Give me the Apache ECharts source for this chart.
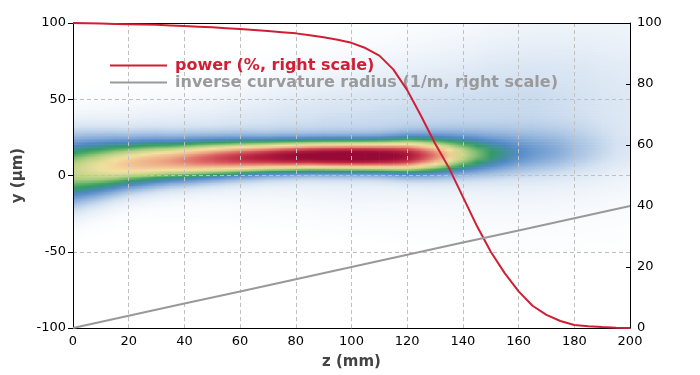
<!DOCTYPE html>
<html><head><meta charset="utf-8">
<script src="https://cdn.jsdelivr.net/npm/echarts@6/dist/echarts.min.js"></script>
<style>html,body{margin:0;padding:0;background:#fff}#c{width:700px;height:375px}</style>
</head><body><div id="c"></div>
<script>
// ---- data ----
const zSteps = [0,5,10,15,20,25,30,35,40,45,50,55,60,65,70,75,80,85,90,95,100,105,110,115,120,125,130,135,140,145,150,155,160,165,170,175,180,185,190,195,200];
// beam core (µm, µm, relative intensity)
const beamCenter = [2.5,4.0,5.2,6.4,7.5,8.3,9.0,9.5,10.0,10.5,11.0,11.4,11.8,12.1,12.4,12.6,12.8,13.0,13.0,13.0,13.0,13.0,13.0,13.0,13.1,13.2,13.3,13.5,13.7,13.9,14.1,14.4,14.7,15.0,15.3,15.6,15.9,16.1,16.3,16.5,16.7];
const beamWidth = [29,27,25,23,21,20,19,18,17.5,16.8,16.2,15.5,15,14.5,14,13.8,13.5,13.3,13.2,13.2,13.2,13.3,13.6,14.2,15,15.5,16,16.5,17,17.5,18,18.5,19,19.5,20,20.5,21,21.5,22,22,22];
const beamPeak = [0.45,0.48,0.51,0.54,0.57,0.59,0.61,0.63,0.66,0.69,0.72,0.75,0.78,0.81,0.84,0.87,0.9,0.92,0.94,0.95,0.96,0.96,0.94,0.91,0.86,0.76,0.66,0.55,0.45,0.37,0.3,0.25,0.2,0.17,0.15,0.13,0.1,0.08,0.06,0.04,0.03];
// faint scattered halo
const haloPeak = [0.09,0.09,0.09,0.095,0.095,0.1,0.1,0.1,0.1,0.105,0.105,0.11,0.11,0.11,0.11,0.115,0.115,0.115,0.12,0.12,0.12,0.12,0.12,0.12,0.12,0.12,0.12,0.12,0.12,0.12,0.12,0.12,0.12,0.12,0.115,0.11,0.105,0.1,0.09,0.085,0.08];
const haloCenter = [12,13,14,15,16,17,18,18.5,19,19.5,20,21,22,23,24,25,26,26.5,27,27.5,28,29.5,31,32,33.5,34.5,35.5,36.5,37.5,38.5,40,41,42,43,44,45,46,47,48,49,50];
const haloWidth = [25,25,25.5,25.5,26,26,26.5,27,27,27.5,28,29,30,31,32,33,34,35,36,37,38,39,40,41,42,43,44,45,46,48,50,51,52,52,53,53,54,54,55,55,55];
// power (%, right scale)
const power = [100,99.9,99.8,99.7,99.6,99.5,99.4,99.2,99.0,98.8,98.6,98.3,98.0,97.7,97.4,97.0,96.6,96.0,95.3,94.5,93.5,91.8,89.3,84.8,78.0,69.5,60.5,52.5,43.0,33.5,25.0,18.0,12.0,7.3,4.3,2.3,1.0,0.6,0.3,0.1,0.0];
// inverse curvature radius (1/m, right scale)
const curvZ = [0,20,40,60,80,100,120,140,160,180,200];
const curvature = [0,4,8,12,16,20,24,28,32,36,40];
const seriesNames = ['power (%, right scale)','inverse curvature radius (1/m, right scale)'];
const xName = 'z (mm)', yName = 'y (µm)';
const palette = ['#ffffff','#d6e3f2','#92b4dc','#4f86c6','#2f9d5c','#b0cf80','#f5e2a0','#eeab86','#d9595d','#b8213f','#970a36'];

// ---- build heat cells: [z, y, value here, value at next z, next z] ----
const yRows = [];
for (let y = -100; y <= 100; y += 1) yRows.push(y);
function intensity(i, y) {
  const d = y - beamCenter[i];
  const h = (y - haloCenter[i]) / haloWidth[i];
  return beamPeak[i] * Math.exp(-2 * d * d / (beamWidth[i] * beamWidth[i])) + haloPeak[i] * Math.exp(-h * h);
}
const cells = [];
for (let i = 0; i < zSteps.length - 1; i++) {
  yRows.forEach(y => {
    const a = intensity(i, y), b = intensity(i + 1, y);
    if (a > 0.004 || b > 0.004) cells.push([zSteps[i], y, a, b, zSteps[i + 1]]);
  });
}
const colorOf = v => echarts.color.lerp(Math.max(0, Math.min(1, v)), palette);

const font = 'DejaVu Sans';
const clampY = v => Math.max(-100, Math.min(100, v));
const chart = echarts.init(document.getElementById('c'), null, {renderer: 'canvas'});
chart.setOption({
  animation: false,
  backgroundColor: '#fff',
  grid: {left: 73, right: 70, top: 23, bottom: 47},
  legend: {
    orient: 'vertical', left: 105, top: 52, itemWidth: 57, itemHeight: 2, itemGap: 0,
    icon: 'rect',
    textStyle: {fontFamily: font, fontWeight: 'bold', fontSize: 16, padding: [0,0,0,3], lineHeight: 17},
    data: [
      {name: seriesNames[0], textStyle: {color: '#d01f35'}},
      {name: seriesNames[1], textStyle: {color: '#9a9a9a'}}
    ]
  },
  xAxis: [{
    type: 'value', min: 0, max: 200, interval: 20, z: 3,
    name: xName, nameLocation: 'middle', nameGap: 27,
    nameTextStyle: {fontFamily: font, fontWeight: 'bold', fontSize: 15, color: '#444'},
    axisLine: {show: true, onZero: false, lineStyle: {color: '#000', width: 1}},
    axisTick: {show: false},
    axisLabel: {fontFamily: font, fontSize: 13, color: '#000', margin: 7},
    splitLine: {show: true, lineStyle: {color: '#c0c0c0', type: [4,3], width: 1}}
  }, {
    type: 'value', min: 0, max: 200, position: 'top', z: 3,
    axisLine: {show: true, onZero: false, lineStyle: {color: '#000', width: 1}},
    axisTick: {show: false}, axisLabel: {show: false}, splitLine: {show: false}
  }],
  yAxis: [{
    type: 'value', min: -100, max: 100, interval: 50, z: 3,
    name: yName, nameLocation: 'middle', nameGap: 40, nameRotate: 90,
    nameTextStyle: {fontFamily: font, fontWeight: 'bold', fontSize: 15, color: '#444'},
    axisLine: {show: true, onZero: false, lineStyle: {color: '#000', width: 1}},
    axisTick: {show: true, inside: false, length: 5, lineStyle: {color: '#000'}},
    axisLabel: {fontFamily: font, fontSize: 13, color: '#000', margin: 7},
    splitLine: {show: true, lineStyle: {color: '#c0c0c0', type: [4,3], width: 1}}
  }, {
    type: 'value', min: 0, max: 100, interval: 20, position: 'right', z: 3,
    axisLine: {show: true, onZero: false, lineStyle: {color: '#000', width: 1}},
    axisTick: {show: true, inside: true, length: 4, lineStyle: {color: '#000'}},
    axisLabel: {fontFamily: font, fontSize: 13, color: '#000', margin: 7},
    splitLine: {show: false}
  }],
  series: [{
    type: 'custom', z: 1, xAxisIndex: 0, yAxisIndex: 0,
    encode: {x: [0, 4], y: 1},
    data: cells,
    renderItem: function (params, api) {
      const z0 = api.value(0), y = api.value(1), z1 = api.value(4);
      const p1 = api.coord([z0, clampY(y + 0.5)]);
      const p2 = api.coord([z1, clampY(y - 0.5)]);
      const ex = z1 >= 200 ? 0 : 0.5, ey = y - 0.5 <= -100 ? 0 : 0.6;
      return {type: 'rect', shape: {x: p1[0], y: p1[1], width: p2[0] - p1[0] + ex, height: p2[1] - p1[1] + ey},
        style: {fill: new echarts.graphic.LinearGradient(0, 0, 1, 0, [
          {offset: 0, color: colorOf(api.value(2))},
          {offset: 1, color: colorOf(api.value(3))}
        ])}};
    }
  }, {
    name: seriesNames[0], type: 'line', z: 5, xAxisIndex: 0, yAxisIndex: 1,
    symbol: 'none', showSymbol: false,
    lineStyle: {color: '#d01f35', width: 2}, itemStyle: {color: '#d01f35'},
    data: zSteps.map((z, i) => [z, power[i]])
  }, {
    name: seriesNames[1], type: 'line', z: 5, xAxisIndex: 0, yAxisIndex: 1,
    symbol: 'none', showSymbol: false,
    lineStyle: {color: '#999999', width: 2}, itemStyle: {color: '#999999'},
    data: curvZ.map((z, i) => [z, curvature[i]])
  }]
});
</script>
</body></html>
